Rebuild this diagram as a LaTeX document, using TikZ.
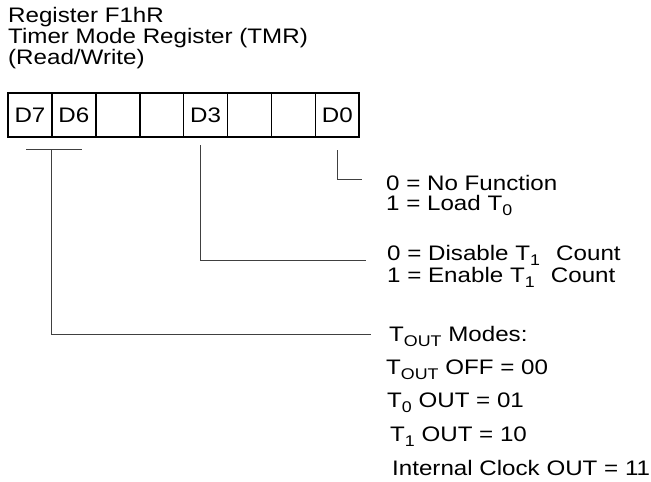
\documentclass[tikz,border=0pt]{standalone}
\usepackage{fontspec}
\setmainfont{Liberation Sans}[FakeStretch=1.15]
\usetikzlibrary{positioning}

\newcommand{\lowidx}[1]{\raisebox{-5pt}{\fontsize{15.5}{15.5}\selectfont #1}}

\begin{document}
\begin{tikzpicture}[x=1pt, y=-1pt,
  bit/.style={rectangle, draw, line width=1.6pt, outer sep=0pt, inner sep=0pt, minimum width=43.9pt, minimum height=44pt, font=\fontsize{21}{21}\selectfont},
  link/.style={line width=0.9pt, draw=black!75},
  desc/.style={anchor=base west, align=left, inner sep=0pt, font=\fontsize{21}{19.5}\selectfont},
]
\useasboundingbox (0,0) rectangle (651,482);

% === Title ===
\node[desc] (title) at (8,64) {Register F1hR\\Timer Mode Register (TMR)\\(Read/Write)};

% === Register bits ===
\node[bit] (b7) at (29.95,115) {D7};
\node[bit, right=0pt of b7] (b6) {D6};
\node[bit, right=0pt of b6] (b5) {};
\node[bit, right=0pt of b5] (b4) {};
\node[bit, right=0pt of b4] (b3) {D3};
\node[bit, right=0pt of b3] (b2) {};
\node[bit, right=0pt of b2] (b1) {};
\node[bit, right=0pt of b1] (b0) {D0};

% === Bit descriptions ===
\node[desc] (fn0) at (386,210) {0 = No Function\\1 = Load T\lowidx{0}};
\node[desc, font=\fontsize{21}{16.5}\selectfont] (fn3) at (387,282) {0 = Disable T\lowidx{1}\hspace{0.45em} Count\\1 = Enable T\lowidx{1}\hspace{0.45em} Count};
\node[desc] (tmodes) at (389,341) {T\lowidx{OUT} Modes:};
\node[desc] (toff) at (386,374) {T\lowidx{OUT} OFF = 00};
\node[desc] (tzero) at (387,407) {T\lowidx{0} OUT = 01};
\node[desc] (tone) at (390,441) {T\lowidx{1} OUT = 10};
\node[desc] (tclk) at (392,475) {Internal Clock OUT = 11};

% === Connectors ===
\coordinate (e0) at (362,179);
\coordinate (e3) at (366,260);
\coordinate (e7) at (371,334);
\coordinate (brl) at (26,149);
\coordinate (brr) at (82,149);
\coordinate (brm) at (51,149);

\draw[link] ([yshift=-13pt]b0.south) |- (e0);
\draw[link] ([shift={(-5pt,-8pt)}]b3.south) |- (e3);
\draw[link] (brl) -- (brr);
\draw[link] (brm) |- (e7);

\end{tikzpicture}
\end{document}
